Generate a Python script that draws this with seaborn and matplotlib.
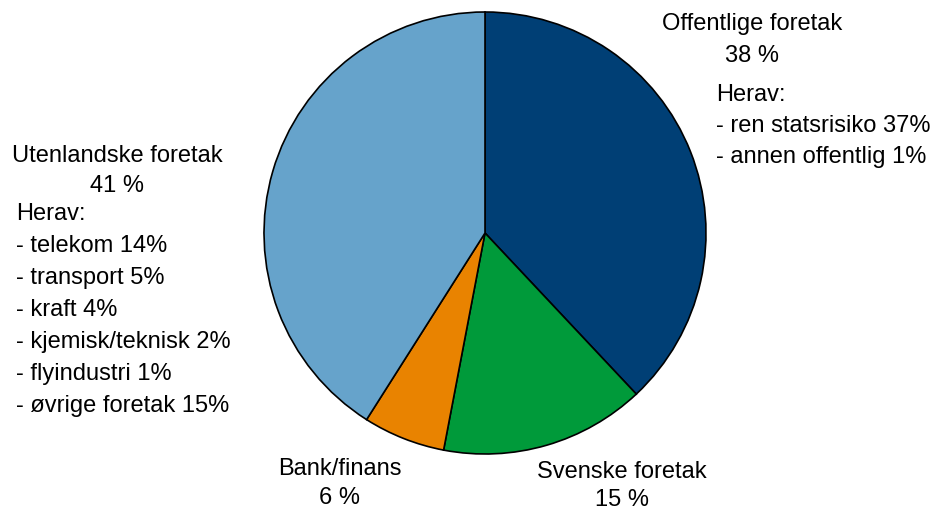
import matplotlib
matplotlib.use("Agg")
import matplotlib.pyplot as plt
import seaborn as sns

# Sector shares (%), clockwise from twelve o'clock
sectors = ["Offentlige foretak", "Svenske foretak", "Bank/finans", "Utenlandske foretak"]
shares = [38, 15, 6, 41]
colors = ["#003f75", "#009a3a", "#e98300", "#66a3cb"]

# Breakdown lines
offentlig_detail = ["Herav:", "- ren statsrisiko 37%", "- annen offentlig 1%"]
utenlandsk_detail = ["Herav:", "- telekom 14%", "- transport 5%", "- kraft 4%",
                     "- kjemisk/teknisk 2%", "- flyindustri 1%", "- øvrige foretak 15%"]

sns.set_theme(style="white")
plt.rcParams["font.family"] = ["Liberation Sans", "DejaVu Sans"]

W, H = 937, 513
fig = plt.figure(figsize=(W / 100, H / 100), dpi=100)
ax = fig.add_axes([0, 0, 1, 1])
ax.set_xlim(0, W)
ax.set_ylim(0, H)
ax.set_aspect("equal")
ax.axis("off")

ax.pie(shares, colors=colors, startangle=90, counterclock=False,
       center=(485, H - 233), radius=221,
       wedgeprops=dict(edgecolor="black", linewidth=1.2))
ax.set_xlim(0, W)
ax.set_ylim(0, H)

fs = 17

def txt(x, y, s, ha="left"):
    ax.text(x, H - y, s, ha=ha, va="center", fontsize=fs, color="black")

# Sector names with shares
label_pos = {
    "Offentlige foretak": (752, 24, 56),
    "Svenske foretak": (622, 472, 500),
    "Bank/finans": (340, 469, 498),
    "Utenlandske foretak": (117, 156, 186),
}
for name, val in zip(sectors, shares):
    x, y1, y2 = label_pos[name]
    txt(x, y1, name, ha="center")
    txt(x, y2, f"{val} %", ha="center")

for i, line in enumerate(offentlig_detail):
    txt(716, 95 + i * 31, line)

for i, line in enumerate(utenlandsk_detail):
    txt(16, 214 + i * 32, line)

fig.savefig("out.png", dpi=100)
